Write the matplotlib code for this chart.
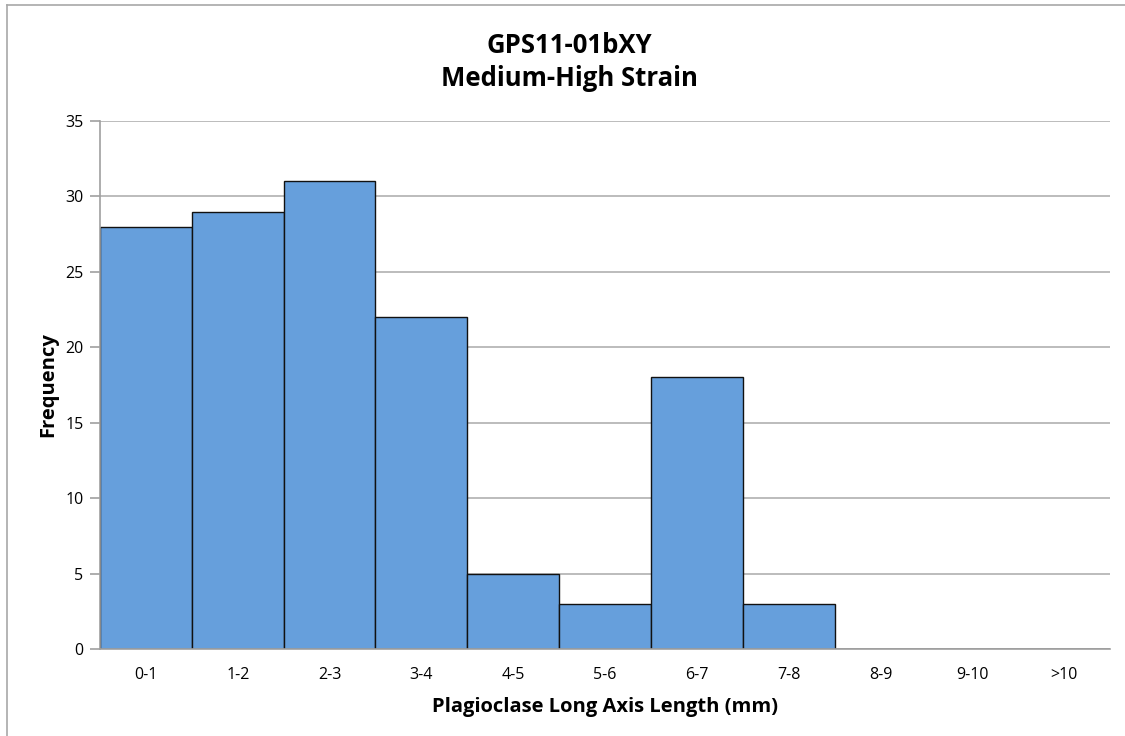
import matplotlib.pyplot as plt
import numpy as np

plt.rcParams['font.family'] = ['Open Sans', 'DejaVu Sans']

bins = ['0-1', '1-2', '2-3', '3-4', '4-5', '5-6', '6-7', '7-8', '8-9', '9-10', '>10']
counts = [28, 29, 31, 22, 5, 3, 18, 3, 0, 0, 0]

fig = plt.figure(figsize=(11.25, 7.36), dpi=100)
ax = fig.add_axes([0.0889, 0.1182, 0.8978, 0.7174])

x = np.arange(len(bins))
ax.bar(x, counts, width=1.0, color='#669fdc', edgecolor='#111111', linewidth=1.0, zorder=3)

ax.set_xlim(-0.5, len(bins) - 0.5)
ax.set_ylim(0, 35)
ax.set_yticks(range(0, 36, 5))
ax.set_xticks(x)
ax.set_xticklabels(bins)
ax.yaxis.grid(True, color='#b0b0b0', linewidth=1.2, zorder=0)

for side in ['top', 'right']:
    ax.spines[side].set_visible(False)
for side in ['left', 'bottom']:
    ax.spines[side].set_color('#a0a0a0')
    ax.spines[side].set_linewidth(1.2)
    ax.spines[side].set_zorder(4)

ax.tick_params(axis='y', length=7, width=1.2, color='#a0a0a0', labelsize=11.5, pad=5)
ax.tick_params(axis='x', length=0, labelsize=11.5, pad=13)

ax.set_ylabel('Frequency', fontsize=14.5, fontweight='bold', labelpad=5)
ax.set_xlabel('Plagioclase Long Axis Length (mm)', fontsize=14.5, fontweight='bold', labelpad=10)

# two-line title, centred on the figure
fig.text(0.506, 0.938, 'GPS11-01bXY', ha='center', va='center', fontsize=18.5, fontweight='bold')
fig.text(0.506, 0.893, 'Medium-High Strain', ha='center', va='center', fontsize=18.5, fontweight='bold')

# thin frame along the left and top of the figure
fig.add_artist(plt.Line2D([0.0062, 0.0062], [0.0, 0.993], transform=fig.transFigure,
                          color='#a8a8a8', linewidth=1.2))
fig.add_artist(plt.Line2D([0.0062, 1.0], [0.993, 0.993], transform=fig.transFigure,
                          color='#a8a8a8', linewidth=1.2))

fig.savefig('out.png', dpi=100)
